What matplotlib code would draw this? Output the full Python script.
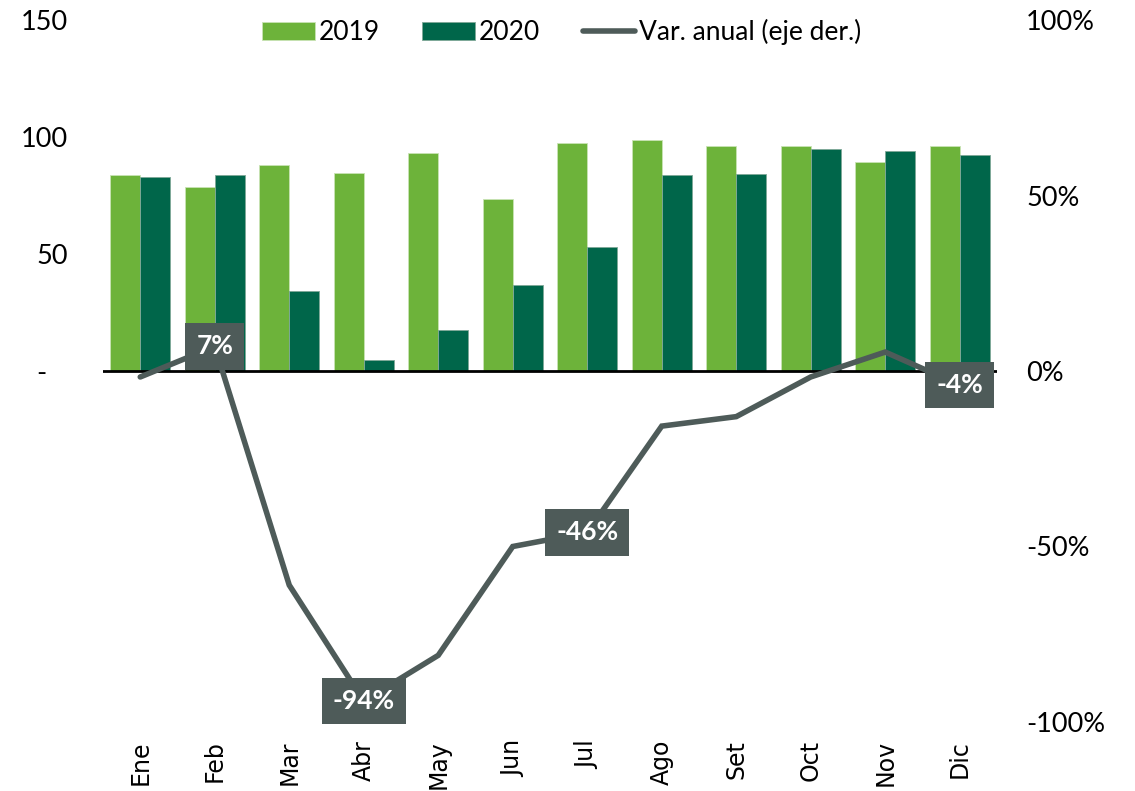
import matplotlib
matplotlib.use("Agg")
import matplotlib.pyplot as plt
import numpy as np
from matplotlib.ticker import FixedLocator, FuncFormatter

plt.rcParams['font.family'] = ['Lato', 'DejaVu Sans']

months = ["Ene", "Feb", "Mar", "Abr", "May", "Jun", "Jul", "Ago", "Set", "Oct", "Nov", "Dic"]
v2019 = [83.9, 78.8, 88.2, 84.8, 93.3, 73.7, 97.6, 98.8, 96.3, 96.3, 89.5, 96.3]
v2020 = [82.7, 83.9, 34.1, 4.7, 17.5, 36.6, 52.8, 83.9, 84.4, 95.0, 94.2, 92.5]
var_anual = [-1.7, 7, -61, -94, -81, -50, -46, -15.7, -13, -1.7, 5.4, -4]
label_idx = [1, 3, 6, 11]
label_txt = ["7%", "-94%", "-46%", "-4%"]

c19 = "#6DB33A"
c20 = "#00664A"
cline = "#4E5B59"

fig = plt.figure(figsize=(11.35, 7.91), dpi=100)
ax = fig.add_axes([103/1135, 1-722/791, 894/1135, 702/791])
ax2 = ax.twinx()

x = np.arange(len(months))
w = 0.4
ax.bar(x - w/2, v2019, width=w, color=c19, edgecolor="#C9E3B5", linewidth=0.6, label="2019", zorder=2)
ax.bar(x + w/2, v2020, width=w, color=c20, edgecolor="#7FA898", linewidth=0.6, label="2020", zorder=2)
ax.axhline(0, color="black", lw=2, zorder=3)

ax.set_xlim(-0.5, 11.5)
ax.set_ylim(-150, 150)
ax.yaxis.set_major_locator(FixedLocator([0, 50, 100, 150]))
ax.yaxis.set_major_formatter(FuncFormatter(lambda v, p: "-   " if v == 0 else f"{v:.0f}"))
ax.set_xticks(x)
ax.set_xticklabels(months, rotation=90, fontsize=17, family="DejaVu Sans")
ax.tick_params(axis="x", length=0, pad=13)
ax.tick_params(axis="y", length=0, labelsize=19.5, pad=25)
for s in ax.spines.values():
    s.set_visible(False)

ax2.plot(x, var_anual, color=cline, lw=4, solid_capstyle="round", solid_joinstyle="miter", label="Var. anual (eje der.)", zorder=4)
ax2.set_ylim(-100, 100)
ax2.yaxis.set_major_locator(FixedLocator([-100, -50, 0, 50, 100]))
ax2.yaxis.set_major_formatter(FuncFormatter(lambda v, p: f"{v:.0f}%"))
ax2.tick_params(axis="y", length=0, labelsize=19.5, pad=21)
for s in ax2.spines.values():
    s.set_visible(False)

for i, t in zip(label_idx, label_txt):
    ax2.text(x[i], var_anual[i], t, ha="center", va="center", color="white", fontsize=19,
             fontweight="bold", zorder=6,
             bbox=dict(boxstyle="square,pad=0.42", facecolor=cline, edgecolor="none"))

h1, l1 = ax.get_legend_handles_labels()
h2, l2 = ax2.get_legend_handles_labels()
fig.legend(h1 + h2, l1 + l2, loc="center", bbox_to_anchor=(562/1135, 1-32/791), ncol=3,
           frameon=False, fontsize=19, handlelength=2.0, handleheight=0.7,
           handletextpad=0.15, columnspacing=1.6)

fig.savefig("out.png", dpi=100)
